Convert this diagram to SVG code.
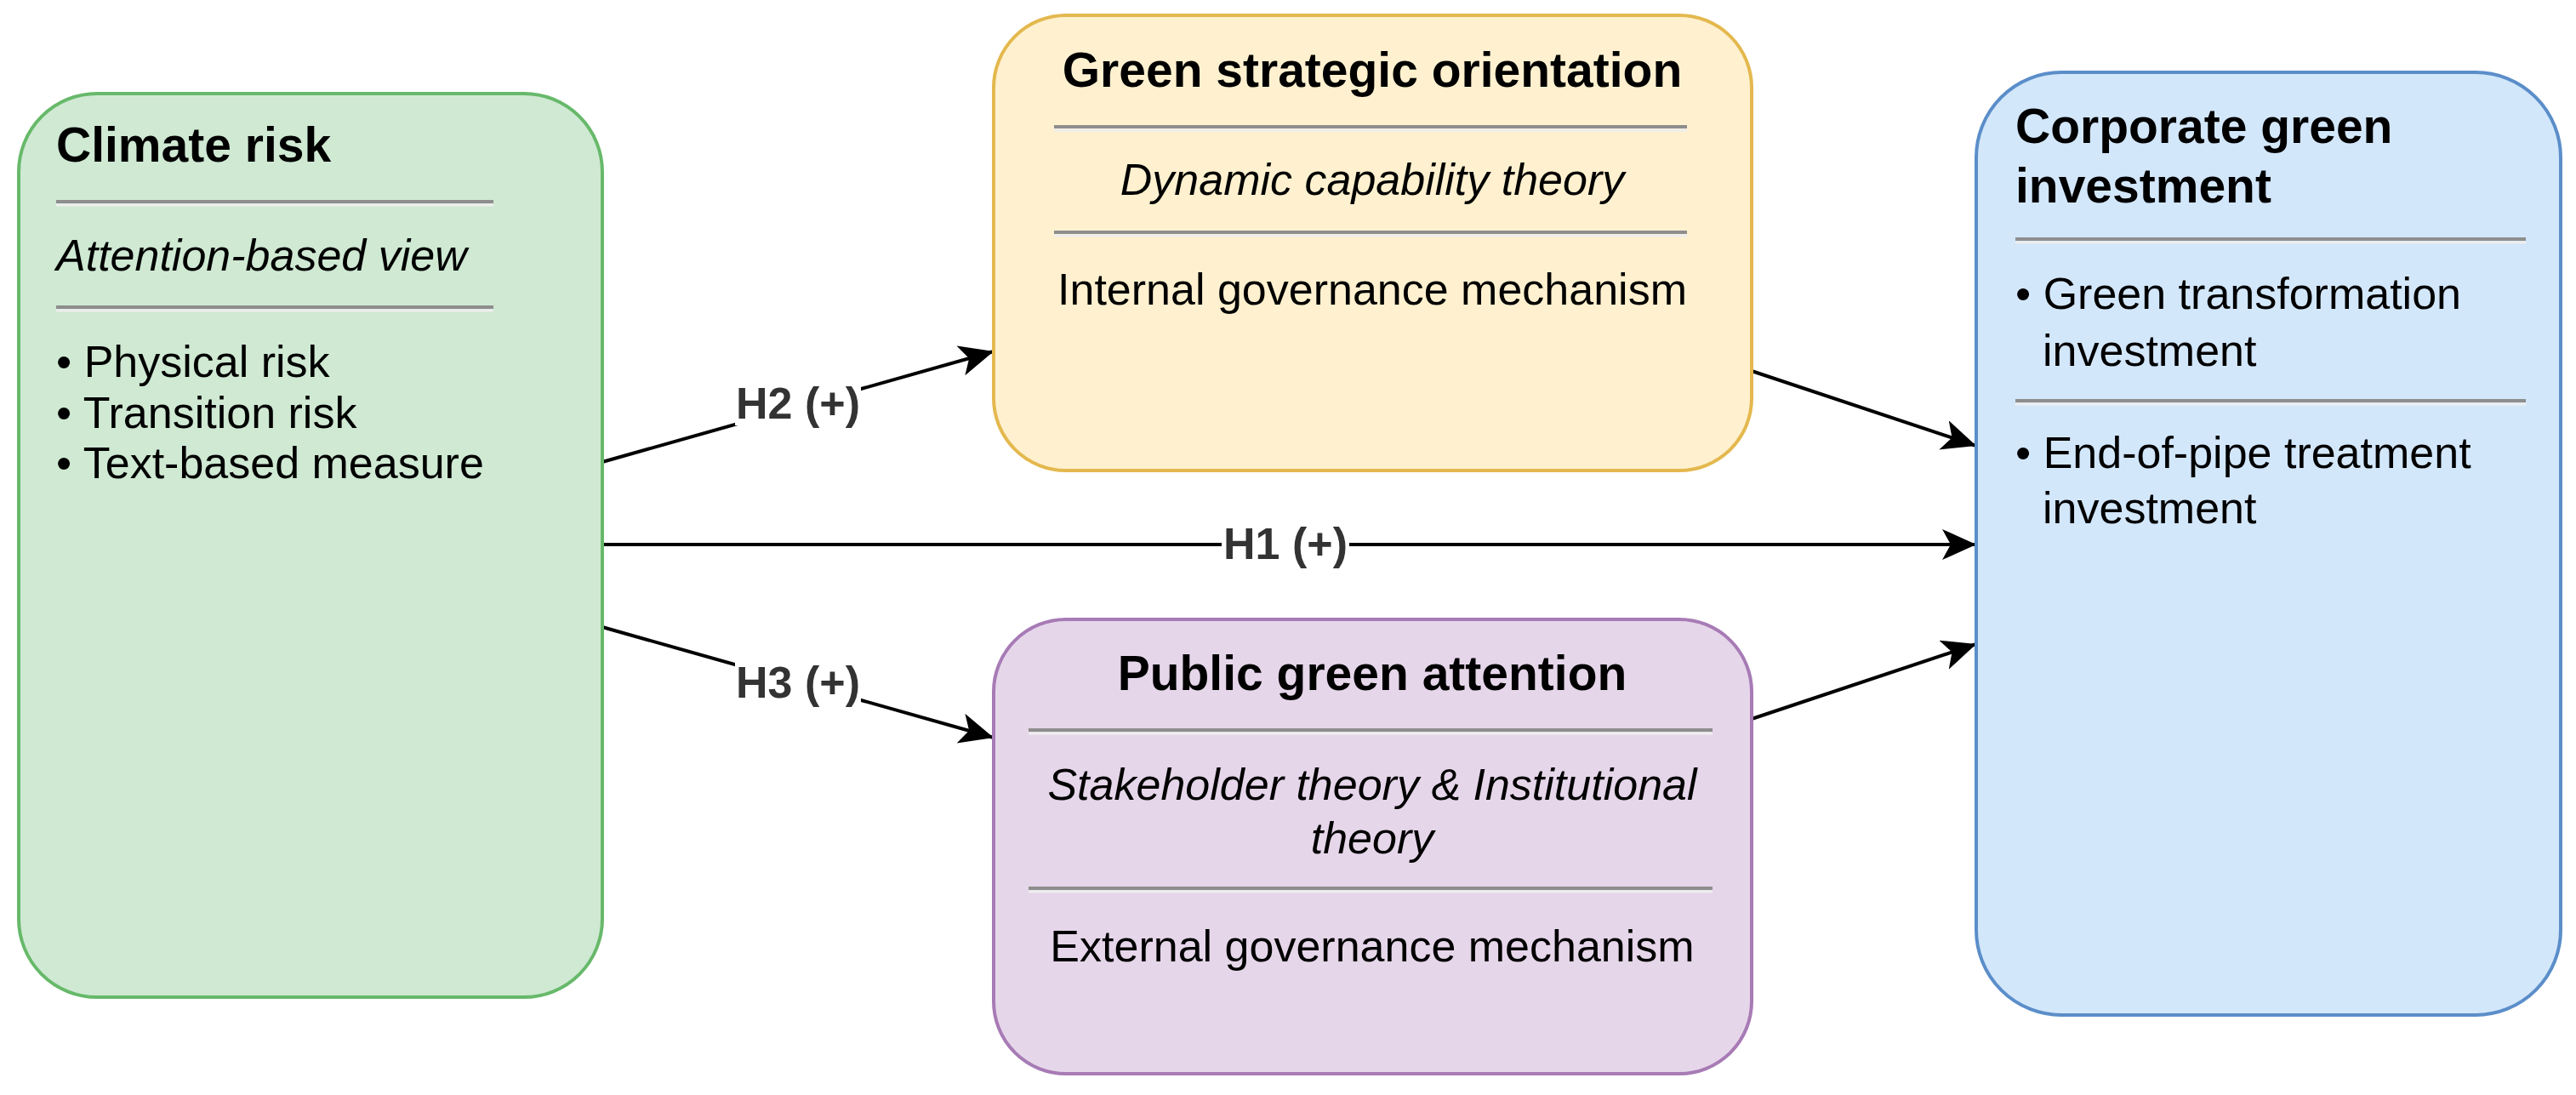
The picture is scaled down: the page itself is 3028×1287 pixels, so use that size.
<svg xmlns="http://www.w3.org/2000/svg" width="3028" height="1287" viewBox="0 0 3028 1287">
<style>
  text { font-family: "Liberation Sans", Arial, Helvetica, sans-serif; fill: #000; }
  .title { font-size: 57px; font-weight: bold; }
  .body { font-size: 52px; }
  .ital { font-size: 52px; font-style: italic; }
  .mid { text-anchor: middle; }
  .sep { stroke: #8e8e8e; stroke-width: 4; }
  .seph { stroke: #eeeeee; stroke-width: 3; }
  .box { stroke-width: 4; }
  .edge { stroke: #000; stroke-width: 4; fill: none; marker-end: url(#arrow); }
  .lbl { font-size: 52px; font-weight: bold; fill: #333333; text-anchor: middle; }
</style>
<defs>
  <marker id="arrow" markerUnits="userSpaceOnUse" markerWidth="42" markerHeight="38" refX="40" refY="18" orient="auto" viewBox="0 0 42 38">
    <path d="M0,0 L40,18 L0,36 L10,18 z" fill="#000"/>
  </marker>
</defs>
<rect width="3028" height="1287" fill="#ffffff"/>

<g id="connectors">
  <line id="e-h2" class="edge" x1="708" y1="543" x2="1168" y2="413"/>
  <line id="e-h1" class="edge" x1="708" y1="640" x2="2323" y2="640"/>
  <line id="e-h3" class="edge" x1="708" y1="737" x2="1168" y2="867"/>
  <line id="e-gso" class="edge" x1="2059" y1="436" x2="2323" y2="524"/>
  <line id="e-pga" class="edge" x1="2059" y1="845" x2="2323" y2="757"/>
  <rect x="864" y="448" width="148" height="52" fill="#ffffff"/>
  <text class="lbl" x="938" y="492">H2 (+)</text>
  <rect x="1436" y="614" width="150" height="52" fill="#ffffff"/>
  <text class="lbl" x="1511" y="657">H1 (+)</text>
  <rect x="864" y="778" width="148" height="52" fill="#ffffff"/>
  <text class="lbl" x="938" y="820">H3 (+)</text>
</g>

<g id="climate-risk">
  <rect class="box" x="22" y="110" width="686" height="1062" rx="92" ry="92" fill="#cfe9d3" stroke="#67b96a"/>
  <text class="title" x="66" y="190">Climate risk</text>
  <line class="sep" x1="66" y1="237" x2="580" y2="237"/>
  <line class="seph" x1="66" y1="241" x2="580" y2="241"/>
  <text class="ital" x="66" y="318">Attention-based view</text>
  <line class="sep" x1="66" y1="361" x2="580" y2="361"/>
  <line class="seph" x1="66" y1="365" x2="580" y2="365"/>
  <text class="body" x="66" y="443">• Physical risk</text>
  <text class="body" x="66" y="503">• Transition risk</text>
  <text class="body" x="66" y="562">• Text-based measure</text>
</g>

<g id="green-strategic-orientation">
  <rect class="box" x="1168" y="18" width="891" height="535" rx="85" ry="85" fill="#fff1cf" stroke="#e4b84e"/>
  <text class="title mid" x="1613" y="102">Green strategic orientation</text>
  <line class="sep" x1="1239" y1="149" x2="1983" y2="149"/>
  <line class="seph" x1="1239" y1="153" x2="1983" y2="153"/>
  <text class="ital mid" x="1613" y="229">Dynamic capability theory</text>
  <line class="sep" x1="1239" y1="273" x2="1983" y2="273"/>
  <line class="seph" x1="1239" y1="277" x2="1983" y2="277"/>
  <text class="body mid" x="1613" y="358">Internal governance mechanism</text>
</g>

<g id="public-green-attention">
  <rect class="box" x="1168" y="728" width="891" height="534" rx="85" ry="85" fill="#e6d6ea" stroke="#a77bb5"/>
  <text class="title mid" x="1613" y="811">Public green attention</text>
  <line class="sep" x1="1209" y1="858" x2="2013" y2="858"/>
  <line class="seph" x1="1209" y1="862" x2="2013" y2="862"/>
  <text class="ital mid" x="1613" y="940">Stakeholder theory &amp; Institutional</text>
  <text class="ital mid" x="1613" y="1003">theory</text>
  <line class="sep" x1="1209" y1="1044" x2="2013" y2="1044"/>
  <line class="seph" x1="1209" y1="1048" x2="2013" y2="1048"/>
  <text class="body mid" x="1613" y="1130">External governance mechanism</text>
</g>

<g id="corporate-green-investment">
  <rect class="box" x="2323" y="85" width="687" height="1108" rx="100" ry="100" fill="#d3e7fb" stroke="#5b8ec9"/>
  <text class="title" x="2369" y="168">Corporate green</text>
  <text class="title" x="2369" y="238">investment</text>
  <line class="sep" x1="2369" y1="281" x2="2969" y2="281"/>
  <line class="seph" x1="2369" y1="285" x2="2969" y2="285"/>
  <text class="body" x="2369" y="363">• Green transformation</text>
  <text class="body" x="2401" y="430">investment</text>
  <line class="sep" x1="2369" y1="471" x2="2969" y2="471"/>
  <line class="seph" x1="2369" y1="475" x2="2969" y2="475"/>
  <text class="body" x="2369" y="550">• End-of-pipe treatment</text>
  <text class="body" x="2401" y="615">investment</text>
</g>
</svg>
